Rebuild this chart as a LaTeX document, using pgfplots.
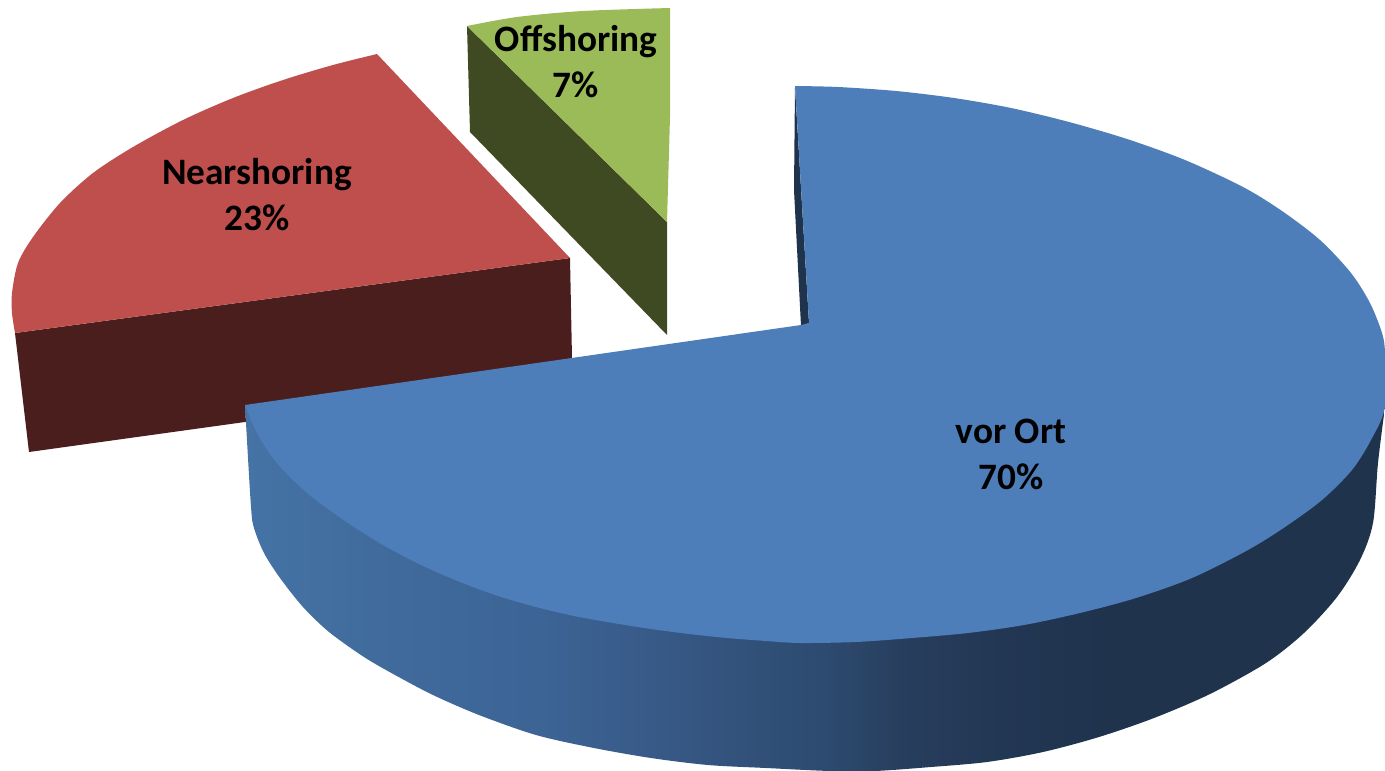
\documentclass[border=0pt]{standalone}
\usepackage{pgfplots}
\pgfplotsset{compat=1.18}
\usepackage{fontspec}
\setmainfont{Carlito}
\definecolor{blueTop}{HTML}{4E7EB9}
\definecolor{redTop}{HTML}{BE4F4C}
\definecolor{redSide}{HTML}{4B1E1E}
\definecolor{greenTop}{HTML}{9BBB59}
\definecolor{greenSide}{HTML}{3F4A22}
\definecolor{blueDark}{HTML}{1F334D}
\definecolor{bs1}{HTML}{4573A5}
\definecolor{bs2}{HTML}{3F6A9B}
\definecolor{bs3}{HTML}{3C6596}
\definecolor{bs4}{HTML}{385A88}
\definecolor{bs5}{HTML}{2C4A6E}
\definecolor{bs6}{HTML}{283E5E}
\definecolor{bs7}{HTML}{223753}
% stops: bp = 25 + 50*(x-245)/1140
\pgfdeclarehorizontalshading{sideblue}{100bp}{%
 color(0bp)=(bs1); color(25bp)=(bs1); color(31.8bp)=(bs2); color(37.5bp)=(bs3);
 color(42.8bp)=(bs4); color(50.7bp)=(bs5); color(53.8bp)=(bs6); color(58.2bp)=(bs7);
 color(62.6bp)=(blueDark); color(100bp)=(blueDark)}
\begin{document}
\begin{tikzpicture}
\path[use as bounding box] (0,0) rectangle (1385pt,771pt);
\begin{axis}[
  at={(0,0)}, anchor=south west,
  scale only axis, width=1385pt, height=771pt,
  xmin=0, xmax=1385, ymin=0, ymax=771, y dir=reverse,
  hide axis, clip=false,
  every axis plot/.append style={draw=none, mark=none}
]
% Offshoring 7%
\addplot[fill=greenSide] coordinates {(467,26)(667,222)(667,335)(470,132)} -- cycle;
\addplot[fill=greenTop, smooth] coordinates {(467,26)(517,17)(583,11)(670,8)} -- (axis cs:670,117) -- (axis cs:667,222) -- cycle;
% Nearshoring 23%
\addplot[fill=redSide] coordinates {(15,333)(570,258)(572,358)(572,377)(245,422)(29,452)} -- cycle;
\addplot[fill=redTop, smooth] coordinates {(377,54)(333,65)(283,80)(233,98)(183,120)(133,147)(93,173)(60,203)(33,237)(18,263)(12,293)(12,313)(15,333)} -- (axis cs:570,258) -- cycle;
% vor Ort 70%: side
\addplot[shading=sideblue, smooth] coordinates {(245,405)(246,423)(251,507)(254,528)(264,553)(280,578)(303,607)(329,632)(364,657)(395,675)(433,695)(479,715)(536,735)(594,748)(651,758)(708,765)(766,768)(830,771)(875,771)(931,767)(987,762)(1043,752)(1099,737)(1154,718)(1210,694)(1266,663)(1304,633)(1337,597)(1360,560)(1373,523)(1378,463)(1385,407)} -- cycle;
\addplot[fill=blueDark] coordinates {(795,87)(794,190)(801,326)(809,323)} -- cycle;
% vor Ort 70%: top face
\addplot[fill=blueTop, smooth] coordinates {(795,86)(838,87)(896,91)(954,98)(1011,108)(1069,122)(1127,139)(1185,160)(1243,187)(1282,211)(1320,240)(1351,273)(1370,303)(1382,333)(1385,353)(1385,407)(1371,440)(1352,470)(1322,500)(1285,527)(1248,550)(1192,578)(1136,598)(1080,613)(1024,625)(968,633)(912,638)(856,642)(800,643)(766,641)(727,638)(689,634)(651,629)(613,623)(574,616)(536,607)(498,596)(460,582)(421,565)(383,545)(345,521)(307,493)(276,462)(257,433)(245,405)} -- (axis cs:801,325) -- (axis cs:809,323) -- cycle;
\node[align=center, font=\fontsize{37.3}{46}\selectfont\bfseries, text=black] at (axis cs:257,195) {Nearshoring\\23\%};
\node[align=center, font=\fontsize{37.3}{46}\selectfont\bfseries, text=black] at (axis cs:576,62) {Offshoring\\7\%};
\node[align=center, font=\fontsize{37.3}{46}\selectfont\bfseries, text=black] at (axis cs:1011,454) {vor Ort\\70\%};
\end{axis}
\end{tikzpicture}
\end{document}
